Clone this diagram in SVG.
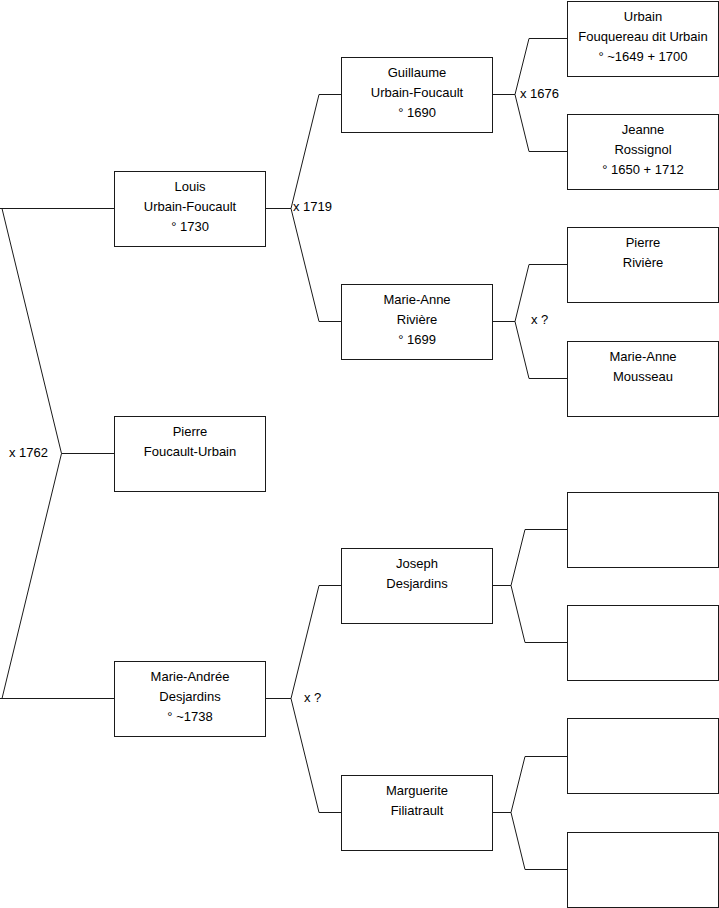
<svg xmlns="http://www.w3.org/2000/svg" width="719" height="908" viewBox="0 0 719 908">
<style>
.box{fill:#fff;stroke:#1a1a1a;stroke-width:1}
.c{fill:none;stroke:#1a1a1a;stroke-width:1}
text{font-family:"Liberation Sans",Arial,sans-serif;font-size:13px;fill:#000}
.n{text-anchor:middle}
</style>
<rect width="719" height="908" fill="#fff"/>
<g id="connectors">
<path class="c" d="M114,208.5 H0 M2,208.5 L61.5,453.5 H114 M114,698.5 H0 M2,698.5 L61.5,453.5"/>
<path class="c" d="M265,208.5 H291 L319,94.5 H341 M291,208.5 L319,321.5 H341"/>
<path class="c" d="M265,698.5 H291 L319,585.5 H341 M291,698.5 L319,812.5 H341"/>
<path class="c" d="M492,94.5 H515 L529,38.5 H567 M515,94.5 L529,151.5 H567"/>
<path class="c" d="M492,321.5 H515 L529,264.5 H567 M515,321.5 L529,378.5 H567"/>
<path class="c" d="M492,585.5 H511 L525,529.5 H567 M511,585.5 L525,642.5 H567"/>
<path class="c" d="M492,812.5 H511 L525,756.5 H567 M511,812.5 L525,869.5 H567"/>
<text x="9" y="457">x 1762</text>
<text x="293" y="211">x 1719</text>
<text x="304" y="702">x ?</text>
<text x="520" y="97.5">x 1676</text>
<text x="531" y="324">x ?</text>
</g>
<g id="louis"><rect class="box" x="114.5" y="171.5" width="151" height="75"/>
<text class="n" x="190" y="191">Louis</text><text class="n" x="190" y="211">Urbain-Foucault</text><text class="n" x="190" y="231">° 1730</text></g>
<g id="pierre"><rect class="box" x="114.5" y="416.5" width="151" height="75"/>
<text class="n" x="190" y="436">Pierre</text><text class="n" x="190" y="456">Foucault-Urbain</text></g>
<g id="marie-andree"><rect class="box" x="114.5" y="661.5" width="151" height="75"/>
<text class="n" x="190" y="681">Marie-Andrée</text><text class="n" x="190" y="701">Desjardins</text><text class="n" x="190" y="721">° ~1738</text></g>
<g id="guillaume"><rect class="box" x="341.5" y="57.5" width="151" height="75"/>
<text class="n" x="417" y="77">Guillaume</text><text class="n" x="417" y="97">Urbain-Foucault</text><text class="n" x="417" y="117">° 1690</text></g>
<g id="marie-anne"><rect class="box" x="341.5" y="284.5" width="151" height="75"/>
<text class="n" x="417" y="304">Marie-Anne</text><text class="n" x="417" y="324">Rivière</text><text class="n" x="417" y="344">° 1699</text></g>
<g id="joseph"><rect class="box" x="341.5" y="548.5" width="151" height="75"/>
<text class="n" x="417" y="568">Joseph</text><text class="n" x="417" y="588">Desjardins</text></g>
<g id="marguerite"><rect class="box" x="341.5" y="775.5" width="151" height="75"/>
<text class="n" x="417" y="795">Marguerite</text><text class="n" x="417" y="815">Filiatrault</text></g>
<g id="urbain"><rect class="box" x="567.5" y="1.5" width="151" height="75"/>
<text class="n" x="643" y="21">Urbain</text><text class="n" x="643" y="41">Fouquereau dit Urbain</text><text class="n" x="643" y="61">° ~1649 + 1700</text></g>
<g id="jeanne"><rect class="box" x="567.5" y="114.5" width="151" height="75"/>
<text class="n" x="643" y="134">Jeanne</text><text class="n" x="643" y="154">Rossignol</text><text class="n" x="643" y="174">° 1650 + 1712</text></g>
<g id="pierre-riviere"><rect class="box" x="567.5" y="227.5" width="151" height="75"/>
<text class="n" x="643" y="247">Pierre</text><text class="n" x="643" y="267">Rivière</text></g>
<g id="marie-anne-mousseau"><rect class="box" x="567.5" y="341.5" width="151" height="75"/>
<text class="n" x="643" y="361">Marie-Anne</text><text class="n" x="643" y="381">Mousseau</text></g>
<g id="empty1"><rect class="box" x="567.5" y="492.5" width="151" height="75"/></g>
<g id="empty2"><rect class="box" x="567.5" y="605.5" width="151" height="75"/></g>
<g id="empty3"><rect class="box" x="567.5" y="718.5" width="151" height="75"/></g>
<g id="empty4"><rect class="box" x="567.5" y="832.5" width="151" height="75"/></g>
</svg>
